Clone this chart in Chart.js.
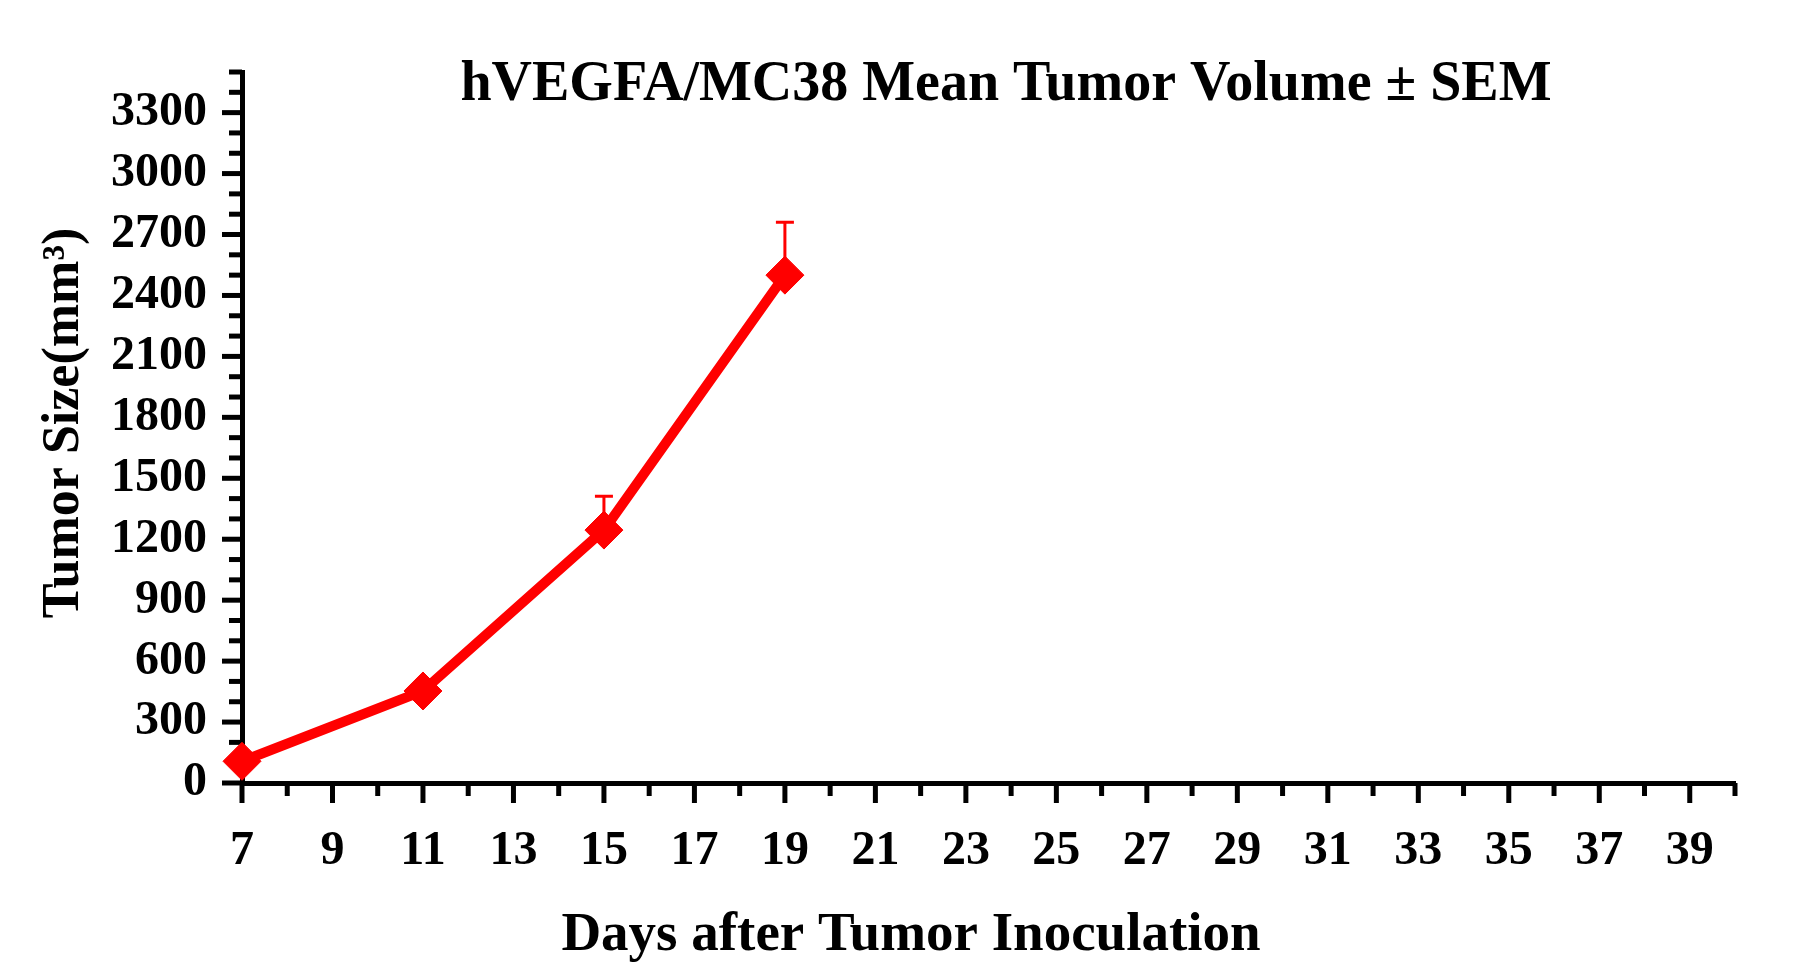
<!DOCTYPE html>
<html>
<head>
<meta charset="utf-8">
<title>hVEGFA/MC38 Mean Tumor Volume ± SEM</title>
<script src="https://cdn.jsdelivr.net/npm/chart.js@4.4.1/dist/chart.umd.min.js"></script>
<style>
  html, body { margin: 0; padding: 0; background: #fff; }
  canvas { display: block; }
</style>
</head>
<body>
<canvas id="tumorChart" width="1802" height="978"></canvas>
<script>
// Data
const days = [7, 11, 15, 19];
const meanVolume = [107, 453, 1245, 2500];
const semVolume = [20, 35, 167, 260];

// Labelled ticks
const xTickValues = [7, 9, 11, 13, 15, 17, 19, 21, 23, 25, 27, 29, 31, 33, 35, 37, 39];
const yTickValues = [0, 300, 600, 900, 1200, 1500, 1800, 2100, 2400, 2700, 3000, 3300];

const chartTitle = 'hVEGFA/MC38 Mean Tumor Volume \u00B1 SEM';
const xTitle = 'Days after Tumor Inoculation';
const yTitle = 'Tumor Size(mm\u00B3)';

const SERIF = '"Liberation Serif", "Times New Roman", serif';
const RED = '#ff0000';

// Outward tick marks (major + minor) and upper SEM whiskers, drawn under the markers
const underlay = {
  id: 'underlay',
  beforeDatasetsDraw(chart) {
    const ctx = chart.ctx;
    const x = chart.scales.x;
    const y = chart.scales.y;
    const area = chart.chartArea;
    ctx.save();
    ctx.strokeStyle = '#000';
    ctx.lineWidth = 5;
    ctx.lineCap = 'butt';
    for (let d = x.min; d <= x.max; d++) {
      const px = x.getPixelForValue(d);
      const len = (d - x.min) % 2 === 0 ? 20 : 13;
      ctx.beginPath();
      ctx.moveTo(px, area.bottom);
      ctx.lineTo(px, area.bottom + len);
      ctx.stroke();
    }
    for (let v = y.min; v <= y.max; v += 100) {
      const py = y.getPixelForValue(v);
      const len = v % 300 === 0 ? 20 : 13;
      ctx.beginPath();
      ctx.moveTo(area.left, py);
      ctx.lineTo(area.left - len, py);
      ctx.stroke();
    }

    ctx.strokeStyle = RED;
    ctx.lineWidth = 3;
    days.forEach((d, i) => {
      const px = x.getPixelForValue(d);
      const py = y.getPixelForValue(meanVolume[i]);
      const top = y.getPixelForValue(meanVolume[i] + semVolume[i]);
      ctx.beginPath();
      ctx.moveTo(px, py);
      ctx.lineTo(px, top);
      ctx.moveTo(px - 9, top);
      ctx.lineTo(px + 9, top);
      ctx.stroke();
    });
    ctx.restore();
  }
};

// Chart title and axis titles
const titles = {
  id: 'titles',
  afterDraw(chart) {
    const ctx = chart.ctx;
    ctx.save();
    ctx.fillStyle = '#000';
    ctx.textAlign = 'center';
    ctx.textBaseline = 'alphabetic';
    ctx.font = 'bold 56px ' + SERIF;
    ctx.fillText(chartTitle, 1006, 100);
    ctx.font = 'bold 55px ' + SERIF;
    ctx.fillText(xTitle, 911, 950);

    ctx.translate(78, 423);
    ctx.rotate(-Math.PI / 2);
    ctx.font = 'bold 52px ' + SERIF;
    ctx.fillText(yTitle, 0, 0);
    ctx.restore();
  }
};

new Chart(document.getElementById('tumorChart'), {
  type: 'line',
  data: {
    datasets: [{
      label: 'hVEGFA/MC38',
      data: days.map((d, i) => ({ x: d, y: meanVolume[i] })),
      borderColor: RED,
      backgroundColor: RED,
      borderWidth: 10,
      pointStyle: 'rectRot',
      pointRadius: 19,
      pointBorderWidth: 1,
      pointBackgroundColor: RED,
      pointBorderColor: RED,
      tension: 0,
      clip: false
    }]
  },
  options: {
    responsive: false,
    devicePixelRatio: 1,
    animation: false,
    layout: { padding: { left: 0, top: 72, right: 67, bottom: 0 } },
    plugins: {
      legend: { display: false },
      tooltip: { enabled: false }
    },
    scales: {
      x: {
        type: 'linear',
        min: 7,
        max: 40,
        afterFit: s => { s.height = 195; },
        afterBuildTicks: s => { s.ticks = xTickValues.map(v => ({ value: v })); },
        grid: { display: false, drawTicks: false },
        border: { display: true, color: '#000', width: 5 },
        ticks: {
          autoSkip: false,
          maxRotation: 0,
          padding: 40,
          color: '#000',
          font: { family: SERIF, size: 48, weight: 'bold' },
          callback: v => String(v)
        }
      },
      y: {
        type: 'linear',
        min: 0,
        max: 3500,
        afterFit: s => { s.width = 242; },
        afterBuildTicks: s => { s.ticks = yTickValues.map(v => ({ value: v })); },
        grid: { display: false, drawTicks: false },
        border: { display: true, color: '#000', width: 5 },
        ticks: {
          autoSkip: false,
          padding: 35,
          color: '#000',
          font: { family: SERIF, size: 48, weight: 'bold' },
          callback: v => String(v)
        }
      }
    }
  },
  plugins: [underlay, titles]
});
</script>
</body>
</html>
